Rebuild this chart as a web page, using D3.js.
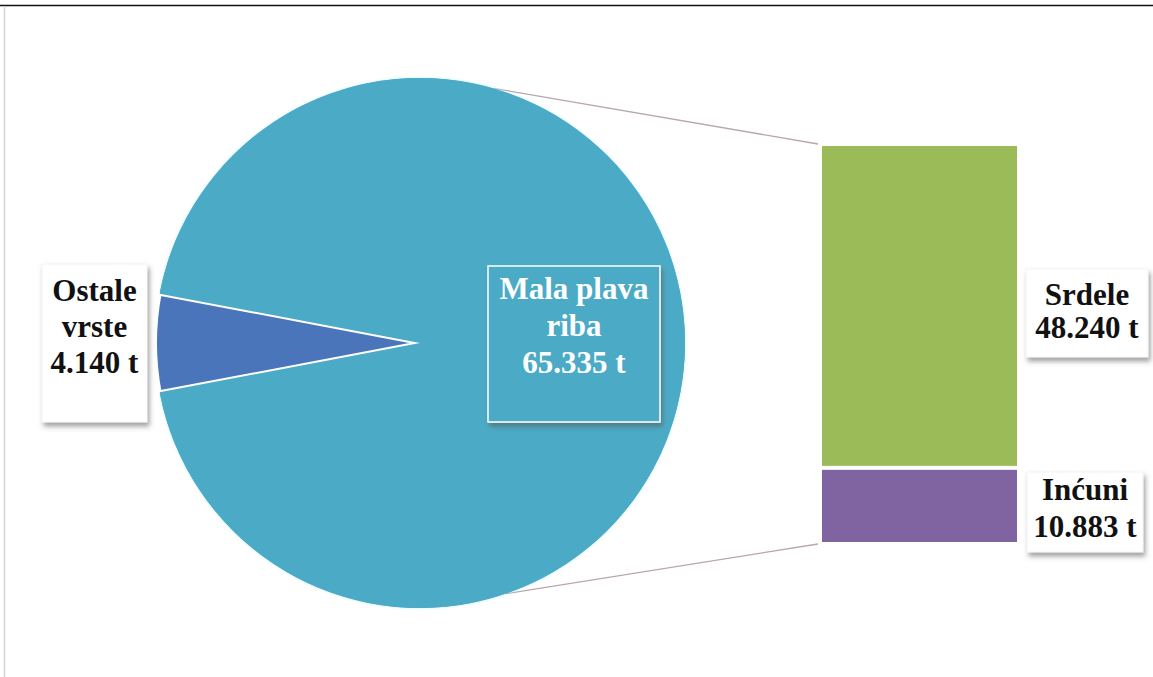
<!DOCTYPE html>
<html lang="hr">
<head>
<meta charset="UTF-8">
<title>Mala plava riba</title>
<style>
  body { margin: 0; background: #fff; }
  .lbl { font-family: "Liberation Serif", "Times New Roman", serif; font-weight: bold; font-size: 31px; text-anchor: middle; }
</style>
</head>
<body>
<script src="https://d3js.org/d3.v7.min.js"></script>
<script>
// podaci
var pieNames = ["Ostale vrste", "Mala plava riba"];
var pieValues = [4140, 65335];
var pieText = [["Ostale", "vrste", "4.140 t"], ["Mala plava", "riba", "65.335 t"]];
var barNames = ["Srdele", "Inćuni"];
var barValues = [48240, 10883];
var barText = [["Srdele", "48.240 t"], ["Inćuni", "10.883 t"]];

var width = 1153, height = 677;
var pieColors = ["#4a75bb", "#4babc6"];
var barColors = ["#9bbb59", "#8064a2"];

var cx = 420, cy = 343, r = 265;
var bar = { x: 822, y: 146, w: 195, h: 396, gap: 4 };

var svg = d3.select("body").append("svg").attr("width", width).attr("height", height);

var defs = svg.append("defs");
var f = defs.append("filter").attr("id", "sh").attr("x", "-20%").attr("y", "-20%").attr("width", "150%").attr("height", "150%");
f.append("feDropShadow").attr("dx", 2).attr("dy", 4).attr("stdDeviation", 2.5)
  .attr("flood-color", "#555").attr("flood-opacity", 0.55);
var gl = defs.append("filter").attr("id", "glow").attr("x", "-10%").attr("y", "-10%").attr("width", "120%").attr("height", "120%");
gl.append("feDropShadow").attr("dx", 0).attr("dy", 0).attr("stdDeviation", 1.5)
  .attr("flood-color", "#bfefff").attr("flood-opacity", 1);

// okvir
svg.append("line").attr("x1", 0).attr("x2", width).attr("y1", 5.5).attr("y2", 5.5)
  .attr("stroke", "#111").attr("stroke-width", 1.5);
svg.append("line").attr("x1", 4.5).attr("x2", 4.5).attr("y1", 6).attr("y2", height)
  .attr("stroke", "#d4d4d4").attr("stroke-width", 1.5);

// spojne linije
var total = d3.sum(pieValues);
var span = 2 * Math.PI * pieValues[0] / total;
var start = 1.5 * Math.PI - span / 2;
var pie = d3.pie().sort(null).startAngle(start).endAngle(start + 2 * Math.PI);
var arcs = pie(pieValues);
var arc = d3.arc().innerRadius(0).outerRadius(r);

var a1 = 0.28, a2 = Math.PI - 0.33;
svg.append("line")
  .attr("x1", cx + r * Math.sin(a1)).attr("y1", cy - r * Math.cos(a1))
  .attr("x2", bar.x - 4).attr("y2", bar.y - 2)
  .attr("stroke", "#b7a7ad").attr("stroke-width", 1.3);
svg.append("line")
  .attr("x1", cx + r * Math.sin(a2)).attr("y1", cy - r * Math.cos(a2))
  .attr("x2", bar.x - 4).attr("y2", bar.y + bar.h + 2)
  .attr("stroke", "#b7a7ad").attr("stroke-width", 1.3);

// pita
var pg = svg.append("g").attr("transform", "translate(" + cx + "," + cy + ")");
pg.append("circle").attr("r", r).attr("fill", pieColors[1]).attr("filter", "url(#glow)");
pg.selectAll("path").data(arcs).enter().append("path")
  .attr("d", arc)
  .attr("fill", function (d, i) { return pieColors[i]; })
  .attr("stroke", function (d, i) { return i === 0 ? "#fff" : "none"; })
  .attr("stroke-width", 4)
  .attr("stroke-linejoin", "round");

// stupac
var yScale = d3.scaleLinear().domain([0, d3.sum(barValues)]).range([0, bar.h - bar.gap]);
var y0 = bar.y;
barValues.forEach(function (v, i) {
  svg.append("rect").attr("x", bar.x).attr("y", y0).attr("width", bar.w).attr("height", yScale(v))
    .attr("fill", barColors[i]);
  y0 += yScale(v) + bar.gap;
});

// oznake
function box(x, y, w, h, lines, base, step, white) {
  var g = svg.append("g");
  g.append("rect").attr("x", x).attr("y", y).attr("width", w).attr("height", h)
    .attr("fill", white ? pieColors[1] : "#fff")
    .attr("stroke", white ? "#fff" : "#f4f4f4")
    .attr("stroke-width", white ? 1.5 : 1)
    .attr("filter", "url(#sh)");
  lines.forEach(function (t, i) {
    g.append("text").attr("class", "lbl")
      .attr("x", x + w / 2).attr("y", base + i * step)
      .attr("fill", white ? "#fff" : "#111")
      .text(t);
  });
}
box(42, 264, 105, 158, pieText[0], 301, 36, false);
box(488, 266, 172, 156, pieText[1], 299, 37, true);
box(1026, 269, 122, 88, barText[0], 305, 33, false);
box(1027, 472, 116, 80, barText[1], 500, 37, false);
</script>
</body>
</html>
